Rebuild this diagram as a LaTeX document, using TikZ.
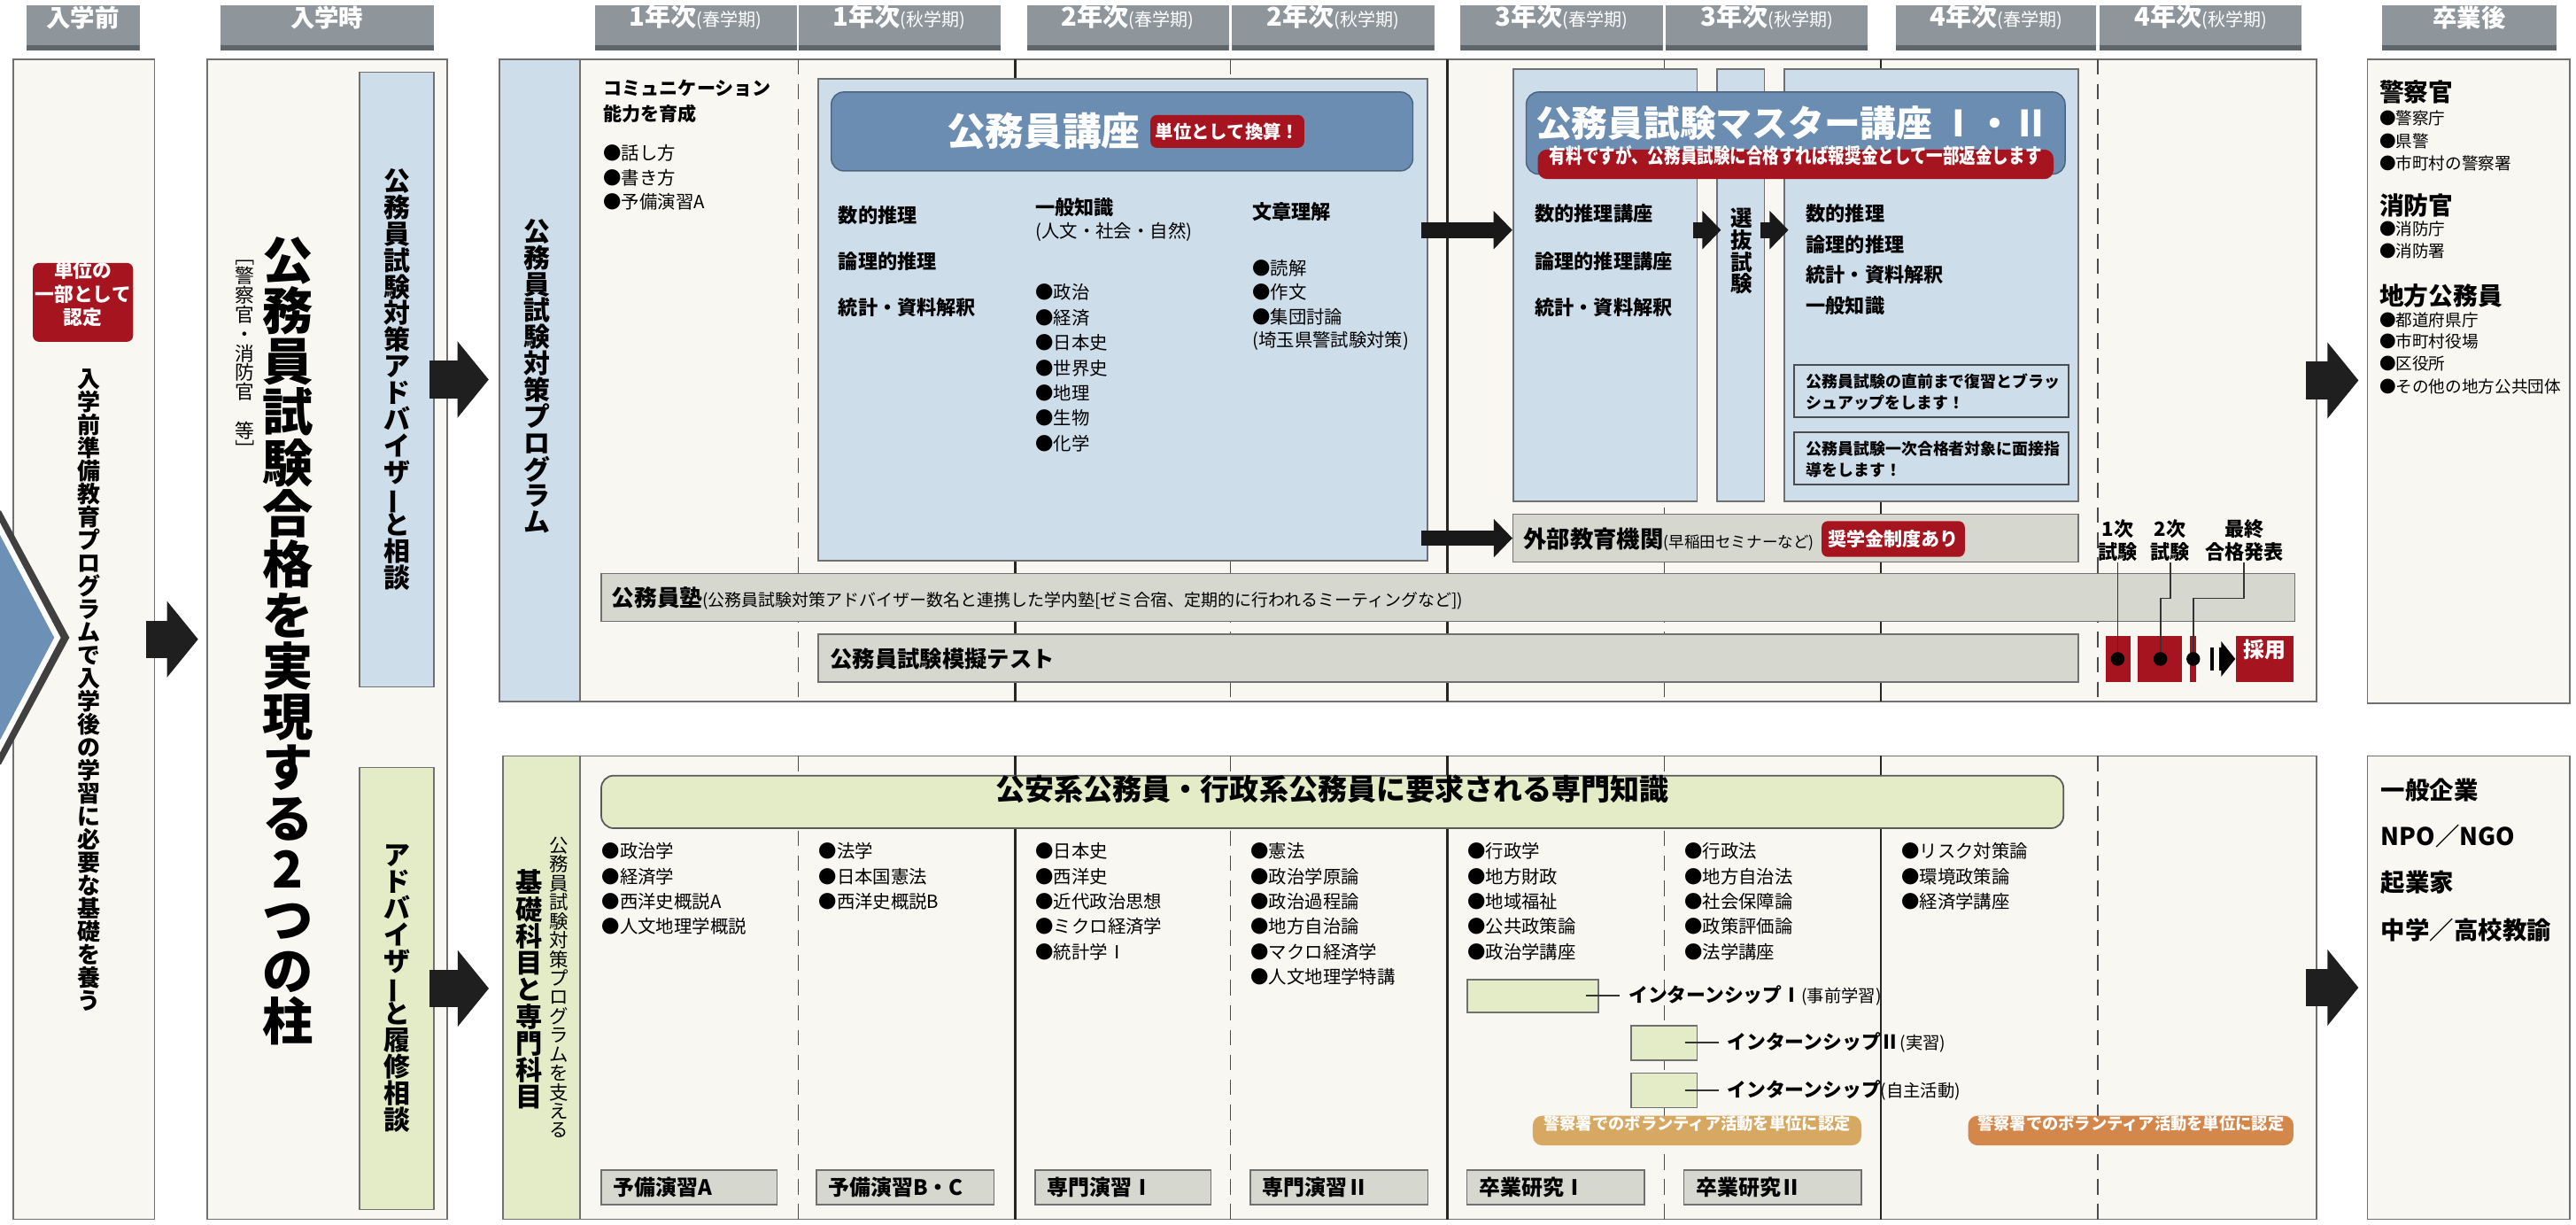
\documentclass[tikz,border=0pt]{standalone}
\usepackage{fontspec}
\usepackage{graphicx}
\setmainfont{Noto Sans CJK JP}
\newfontfamily\cond{Noto Sans CJK JP}[FakeStretch=0.8]
\usetikzlibrary{arrows.meta,fit,positioning}
\newcommand\fsz[2]{\fontsize{#1}{#2}\selectfont}
% fuggoleges szoveg: betunkent egymas ala
\ExplSyntaxOn
\cs_new_protected:Npn \__tate_char:n #1 { \hbox_to_wd:nn { 1em } { \hss #1 \hss } }
\NewDocumentCommand \tate { m }
  {
    \vbox:n
      {
        \skip_set:Nn \baselineskip { 1em }
        \dim_set:Nn \lineskiplimit { -\c_max_dim }
        \tl_map_function:nN {#1} \__tate_char:n
      }
  }
\ExplSyntaxOff
\newcommand\nobi{\rotatebox[origin=c]{90}{ー}}
\definecolor{hdrgray}{HTML}{8E969C}
\definecolor{hdrdark}{HTML}{5F666B}
\definecolor{paper}{HTML}{F8F7F2}
\definecolor{frame}{HTML}{707070}
\definecolor{skyfill}{HTML}{CEDDEA}
\definecolor{steel}{HTML}{6A8DB1}
\definecolor{kred}{HTML}{A5141F}
\definecolor{bargray}{HTML}{D6D7CF}
\definecolor{leaf}{HTML}{E3ECC7}
\definecolor{tanbadge}{HTML}{D6A862}
\definecolor{rustbadge}{HTML}{D4874B}
\definecolor{chev}{HTML}{6C90B6}
\begin{document}
\begin{tikzpicture}[x=0.018553cm, y=-0.018553cm,
    area/.style={draw=frame, line width=0.5pt, fill=paper, inner sep=0pt},
    sky/.style={area, fill=skyfill},
    leafbox/.style={area, fill=leaf},
    hdr/.style={fill=hdrgray, inner sep=0pt, text=white, path picture={\fill[hdrdark] (path picture bounding box.south west) rectangle ([yshift=1.8pt]path picture bounding box.south east);}},
    greybar/.style={draw=frame, line width=0.4pt, fill=bargray, inner sep=0pt},
    redtag/.style={fill=kred, rounded corners=2pt, text=white, inner sep=0pt},
    item/.style={anchor=west, inner sep=0pt, font=\fsz{5.8}{7}},
    subj/.style={anchor=west, inner sep=0pt, font=\bfseries\fsz{6.3}{7.5}},
    vtext/.style={inner sep=0pt},
    fat/.style={draw=black!88, line width=12pt, -{Triangle[length=10pt,width=24pt]}},
    slim/.style={draw=black!90, line width=5pt, -{Triangle[length=6pt,width=12pt]}},
    wire/.style={draw=black!80, line width=0.5pt},
    solidcol/.style={draw=black!85, line width=0.6pt},
    dashcol/.style={draw=black!70, line width=0.4pt, dash pattern=on 5pt off 3pt}]
\useasboundingbox (0,0) rectangle (1568,745);

% fejlecek
\node[hdr, fit={(16,3) (85,31)}, font=\bfseries\fsz{7.8}{9}] (hpre) {入学前};
\node[hdr, fit={(134,3) (264,31)}, font=\bfseries\fsz{7.8}{9}] (hentry) {入学時};
\node[hdr, fit={(1450,3) (1556,31)}, font=\bfseries\fsz{7.8}{9}] (hafter) {卒業後};
\foreach \a/\b/\yr/\sem [count=\i] in {362/485/1/春,486/609/1/秋,625/748/2/春,750/873/2/秋,889/1012/3/春,1014/1137/3/秋,1154/1276/4/春,1278/1401/4/秋}
    \node[hdr, fit={(\a,3) (\b,31)}] (sem\i) {{\bfseries\fsz{8.3}{9}\yr 年次}{\fsz{5.7}{7}(\sem 学期)}};

%入学前
\node[area, fit={(8,36) (94,742)}] (pre) {};
\draw[black!75, line width=3pt] (-2,312) -- (39,388) -- (-2,464);
\filldraw[fill=chev, draw=white, line width=1.8pt] (-2,318) -- (35,388) -- (-2,458) -- cycle;
\node[redtag, fit={(20,160) (81,208)}, align=center, font=\bfseries\fsz{6.2}{7.6}] (credit) {単位の\\一部として\\認定};
\node[vtext, anchor=north, font=\bfseries\fsz{7.4}{8}] (prept) at (54,224) {\tate{入学前準備教育プログラムで入学後の学習に必要な基礎を養う}};

% 入学時
\node[area, fit={(126,36) (272,742)}] (entry) {};
\node[vtext, font=\bfseries\fsz{16.3}{17}] (pillar) at (175,390) {\tate{公務員試験合格を実現する2つの柱}};
\node[vtext, anchor=north, font=\fsz{6.2}{7}] (police) at (149,150) {\tate{{\rotatebox[origin=c]{-90}{［}}警察官・消防官　等{\rotatebox[origin=c]{-90}{］}}}};
\node[sky, fit={(219,44) (264,418)}] (adv1) {};
\node[vtext, font=\bfseries\fsz{8.5}{9}] (adv1t) at (adv1) {\tate{公務員試験対策アドバイザ{\nobi}と相談}};
\node[leafbox, fit={(219,467) (264,736)}] (adv2) {};
\node[vtext, font=\bfseries\fsz{8.5}{9}] (adv2t) at (adv2) {\tate{アドバイザ{\nobi}と履修相談}};

% programok
\node[area, fit={(304,36) (1410,427)}] (prog) {};
\node[area, fit={(306,460) (1410,742)}] (base) {};
\foreach \x in {618,881,1145}{
    \draw[solidcol] (\x,36) -- (\x,427);
    \draw[solidcol] (\x,460) -- (\x,742);
}
\foreach \x in {486,749,1013,1277}{
    \draw[dashcol] (\x,36) -- (\x,427);
    \draw[dashcol] (\x,460) -- (\x,742);
}
\node[sky, fit={(304,36) (353,427)}] (progtag) {};
\node[vtext, font=\bfseries\fsz{8.5}{9}] (progtagt) at (327,229) {\tate{公務員試験対策プログラム}};

% 1. ev
\node[subj, font=\bfseries\fsz{6}{7}] (comm1) at (367,54) {コミュニケーション};
\node[subj, font=\bfseries\fsz{6}{7}] (comm2) at (367,69) {能力を育成};
\foreach \t [count=\k] in {●話し方,●書き方,●予備演習A}
    \node[item] (c1-\k) at (367,{93+(\k-1)*15}) {\t};

% 公務員講座
\node[sky, fit={(498,48) (869,341)}] (kouza) {};
\node[fill=steel, draw=steel!70!black, line width=0.4pt, rounded corners=4pt, inner sep=0pt, fit={(506,56) (860,104)}] (kouzahd) {};
\node[anchor=west, inner sep=0pt, text=white, font=\bfseries\fsz{12.4}{13}] (kouzat) at (576,80) {公務員講座};
\node[redtag, right=3pt of kouzat, inner xsep=1.6pt, minimum height=10.5pt, font=\bfseries\fsz{5.8}{6}] (kanzan) {単位として換算！};
\foreach \t/\y [count=\k] in {数的推理/131,論理的推理/159,統計・資料解釈/187}
    \node[subj] (ks-\k) at (510,\y) {\t};
\node[subj] (ippan) at (630,126) {一般知識};
\node[item] (ippan2) at (630,141) {(人文・社会・自然)};
\foreach \t [count=\k] in {●政治,●経済,●日本史,●世界史,●地理,●生物,●化学}
    \node[item] (gk-\k) at (630,{178+(\k-1)*15.3}) {\t};
\node[subj] (bunsho) at (762,129) {文章理解};
\foreach \t [count=\k] in {●読解,●作文,●集団討論,(埼玉県警試験対策)}
    \node[item] (bun-\k) at (762,{163+(\k-1)*14.8}) {\t};

% mester kurzus
\node[sky, fit={(921,42) (1033,305)}] (mA) {};
\node[sky, fit={(1045,42) (1074,305)}] (sel) {};
\node[sky, fit={(1086,42) (1265,305)}] (mB) {};
\node[fill=steel, draw=steel!70!black, line width=0.4pt, rounded corners=4pt, inner sep=0pt, fit={(929,56) (1257,106)}] (masterhd) {};
\node[text=white, inner sep=0pt, font=\bfseries\fsz{11.6}{12}] (mastert) at (1091,75) {公務員試験マスター講座 Ⅰ・Ⅱ};
\node[redtag, rounded corners=3pt, fit={(936,91) (1250,109)}, font=\cond\bfseries\fsz{6.6}{7}] (refund) {有料ですが、公務員試験に合格すれば報奨金として一部返金します};
\foreach \t/\y [count=\k] in {数的推理講座/130,論理的推理講座/159,統計・資料解釈/187}
    \node[subj] (ma-\k) at (934,\y) {\t};
\node[vtext, font=\bfseries\fsz{7}{8}] (selt) at (1060,153) {\tate{選抜試験}};
\foreach \t [count=\k] in {数的推理,論理的推理,統計・資料解釈,一般知識}
    \node[subj] (mb-\k) at (1099,{130+(\k-1)*18.7}) {\t};
\node[sky, draw=black!70, fit={(1092,222) (1259,254)}] (brush) {};
\node[anchor=west, inner sep=0pt, align=left, font=\bfseries\fsz{5.1}{6.9}] (brusht) at (1099,238.5) {公務員試験の直前まで復習とブラッ\\シュアップをします！};
\node[sky, draw=black!70, fit={(1092,263) (1259,295)}] (mensetsu) {};
\node[anchor=west, inner sep=0pt, align=left, font=\bfseries\fsz{5.1}{6.9}] (mensetsut) at (1099,279.5) {公務員試験一次合格者対象に面接指\\導をします！};

% savok
\node[greybar, fit={(921,313) (1265,342)}] (gaibu) {};
\node[anchor=west, inner sep=0pt] (gaibut) at (927,328) {{\bfseries\fsz{7.5}{8}外部教育機関}{\fsz{5}{6}(早稲田セミナーなど)}};
\node[redtag, right=2pt of gaibut, minimum height=11.5pt, inner xsep=2pt, font=\bfseries\fsz{6}{7}] (shogaku) {奨学金制度あり};
\node[greybar, fit={(366,349) (1397,378)}] (juku) {};
\node[anchor=west, inner sep=0pt] (jukut) at (372,364) {{\bfseries\fsz{7.3}{8}公務員塾}{\fsz{5.4}{6}(公務員試験対策アドバイザー数名と連携した学内塾[ゼミ合宿、定期的に行われるミーティングなど])}};
\node[greybar, fit={(498,386) (1265,415)}] (mogi) {};
\node[anchor=west, inner sep=0pt, font=\bfseries\fsz{7.2}{8}] (mogit) at (505,401) {公務員試験模擬テスト};

% vizsgak
\node[align=center, inner sep=0pt, font=\bfseries\fsz{6.3}{7.4}] (ex1) at (1289,329) {1次\\試験};
\node[align=center, inner sep=0pt, font=\bfseries\fsz{6.3}{7.4}] (ex2) at (1321,329) {2次\\試験};
\node[align=center, inner sep=0pt, font=\bfseries\fsz{6.3}{7.4}] (ex3) at (1366,329) {最終\\合格発表};
\node[fill=kred, inner sep=0pt, fit={(1282,387) (1297,415)}] (blk1) {};
\node[fill=kred, inner sep=0pt, fit={(1301,387) (1328,415)}] (blk2) {};
\node[fill=kred, inner sep=0pt, fit={(1333,387) (1337,415)}] (blk3) {};
\node[fill=kred, inner sep=0pt, fit={(1361,387) (1396,415)}, text=white, font=\bfseries\fsz{6.8}{7}] (saiyo) {採用};
\node[circle, fill=black, inner sep=0pt, minimum size=4.4pt] (dot1) at (1289,401) {};
\node[circle, fill=black, inner sep=0pt, minimum size=4.4pt] (dot2) at (1315,401) {};
\node[circle, fill=black, inner sep=0pt, minimum size=4.4pt] (dot3) at (1335,401) {};
\draw[wire] (ex1.south) -- (dot1);
\draw[wire] (ex2.south) -- ++(0,22) -| (dot2);
\draw[wire] (ex3.south) -- ++(0,22) -| (dot3);
\draw[black, line width=7.4pt, dash pattern=on 1.3pt off 1.6pt, -{Triangle[length=4.5pt,width=11pt]}, shorten <=3pt] (dot3) -- (saiyo.west);

% also resz
\node[leafbox, fit={(306,460) (353,742)}] (basetag) {};
\node[vtext, anchor=north, font=\fsz{6.1}{7}] (basetag1) at (340,509) {\tate{公務員試験対策プログラムを支える}};
\node[vtext, anchor=north, font=\bfseries\fsz{8.6}{9}] (basetag2) at (322,529) {\tate{基礎科目と専門科目}};
\node[leafbox, draw=black!65, rounded corners=4pt, fit={(366,472) (1256,504)}, font=\bfseries\fsz{9.4}{10}] (need) {公安系公務員・行政系公務員に要求される専門知識};
\foreach \x/\list [count=\c] in {366/{●政治学,●経済学,●西洋史概説A,●人文地理学概説},
        498/{●法学,●日本国憲法,●西洋史概説B},
        630/{●日本史,●西洋史,●近代政治思想,●ミクロ経済学,●統計学Ⅰ},
        761/{●憲法,●政治学原論,●政治過程論,●地方自治論,●マクロ経済学,●人文地理学特講},
        893/{●行政学,●地方財政,●地域福祉,●公共政策論,●政治学講座},
        1025/{●行政法,●地方自治法,●社会保障論,●政策評価論,●法学講座},
        1157/{●リスク対策論,●環境政策論,●経済学講座}}
    \foreach \t [count=\k] in \list
        \node[item] (sub\c-\k) at (\x,{518+(\k-1)*15.3}) {\t};

% gyakorlatok
\node[leafbox, fit={(893,596) (973,616)}] (int1) {};
\node[anchor=west, inner sep=0pt] (int1t) at (991,606) {{\bfseries\fsz{6.2}{7}インターンシップⅠ}{\fsz{5.5}{6}(事前学習)}};
\draw[wire] ([xshift=-4.2pt]int1.east) -- ([xshift=-2.6pt]int1t.west);
\node[leafbox, fit={(993,624) (1033,645)}] (int2) {};
\node[anchor=west, inner sep=0pt] (int2t) at (1051,634.5) {{\bfseries\fsz{6.2}{7}インターンシップⅡ}{\fsz{5.5}{6}(実習)}};
\draw[wire] ([xshift=-4.2pt]int2.east) -- ([xshift=-2.6pt]int2t.west);
\node[leafbox, fit={(993,653) (1033,674)}] (int3) {};
\node[anchor=west, inner sep=0pt] (int3t) at (1051,663.5) {{\bfseries\fsz{6.2}{7}インターンシップ}{\fsz{5.5}{6}(自主活動)}};
\draw[wire] ([xshift=-4.2pt]int3.east) -- ([xshift=-2.6pt]int3t.west);
\node[fill=tanbadge, rounded corners=3pt, inner sep=0pt, fit={(933,679) (1133,697)}, text=white, font=\bfseries\fsz{5.2}{6}] (vol1) {警察署でのボランティア活動を単位に認定};
\node[fill=rustbadge, rounded corners=3pt, inner sep=0pt, fit={(1198,679) (1396,697)}, text=white, font=\bfseries\fsz{5.2}{6}] (vol2) {警察署でのボランティア活動を単位に認定};
\foreach \a/\b/\t [count=\i] in {366/473/予備演習A,497/605/予備演習B・C,630/737/専門演習Ⅰ,761/869/専門演習Ⅱ,893/1001/卒業研究Ⅰ,1025/1133/卒業研究Ⅱ}{
    \node[greybar, fit={(\a,712) (\b,733)}] (sem-box\i) {};
    \node[anchor=west, inner sep=0pt, font=\bfseries\fsz{6.8}{7}] (sem-boxt\i) at ({\a+7},722.5) {\t};
}

% utana
\node[area, fit={(1441,36) (1564,428)}] (after1) {};
\foreach \t/\y [count=\k] in {警察官/56,消防官/125,地方公務員/180}
    \node[anchor=west, inner sep=0pt, font=\bfseries\fsz{7.9}{9}] (job-\k) at (1448,\y) {\t};
\foreach \t/\y [count=\k] in {●警察庁/72,●県警/86,●市町村の警察署/99.5,●消防庁/139.5,●消防署/153,●都道府県庁/195,●市町村役場/208,●区役所/221.5,●その他の地方公共団体/235}
    \node[item, font=\fsz{5.3}{6}] (place-\k) at (1448,\y) {\t};
\node[area, fit={(1441,460) (1564,742)}] (after2) {};
\foreach \t/\y [count=\k] in {一般企業/481,NPO／NGO/509,起業家/537,中学／高校教諭/566}
    \node[anchor=west, inner sep=0pt, font=\bfseries\fsz{7.8}{9}] (work-\k) at (1449,\y) {\t};

% nyilak
\draw[fat, shorten <=-3pt, shorten >=2.6pt] (pre.east) -- (entry.west);
\draw[fat, shorten <=-1.6pt, shorten >=3.2pt] (adv1.east) -- (prog.west |- adv1.east);
\draw[fat, shorten <=-1.6pt, shorten >=4.2pt] (adv2.east) -- (base.west |- adv2.east);
\draw[fat, shorten <=-3.7pt, shorten >=2.6pt] (prog.east) -- (after1.west |- prog.east);
\draw[fat, shorten <=-3.7pt, shorten >=2.6pt] (base.east) -- (after2.west |- base.east);
\coordinate (lane) at (0,140);
\draw[slim, shorten <=-2.2pt] (kouza.east |- lane) -- (mA.west |- lane);
\draw[slim, shorten <=-1.6pt, shorten >=-1.6pt] (mA.east |- lane) -- (sel.west |- lane);
\draw[slim, shorten <=-1.6pt, shorten >=-1.6pt] (sel.east |- lane) -- (mB.west |- lane);
\draw[slim, shorten <=-2.2pt] (kouza.east |- gaibu.west) -- (gaibu.west);
\end{tikzpicture}
\end{document}
